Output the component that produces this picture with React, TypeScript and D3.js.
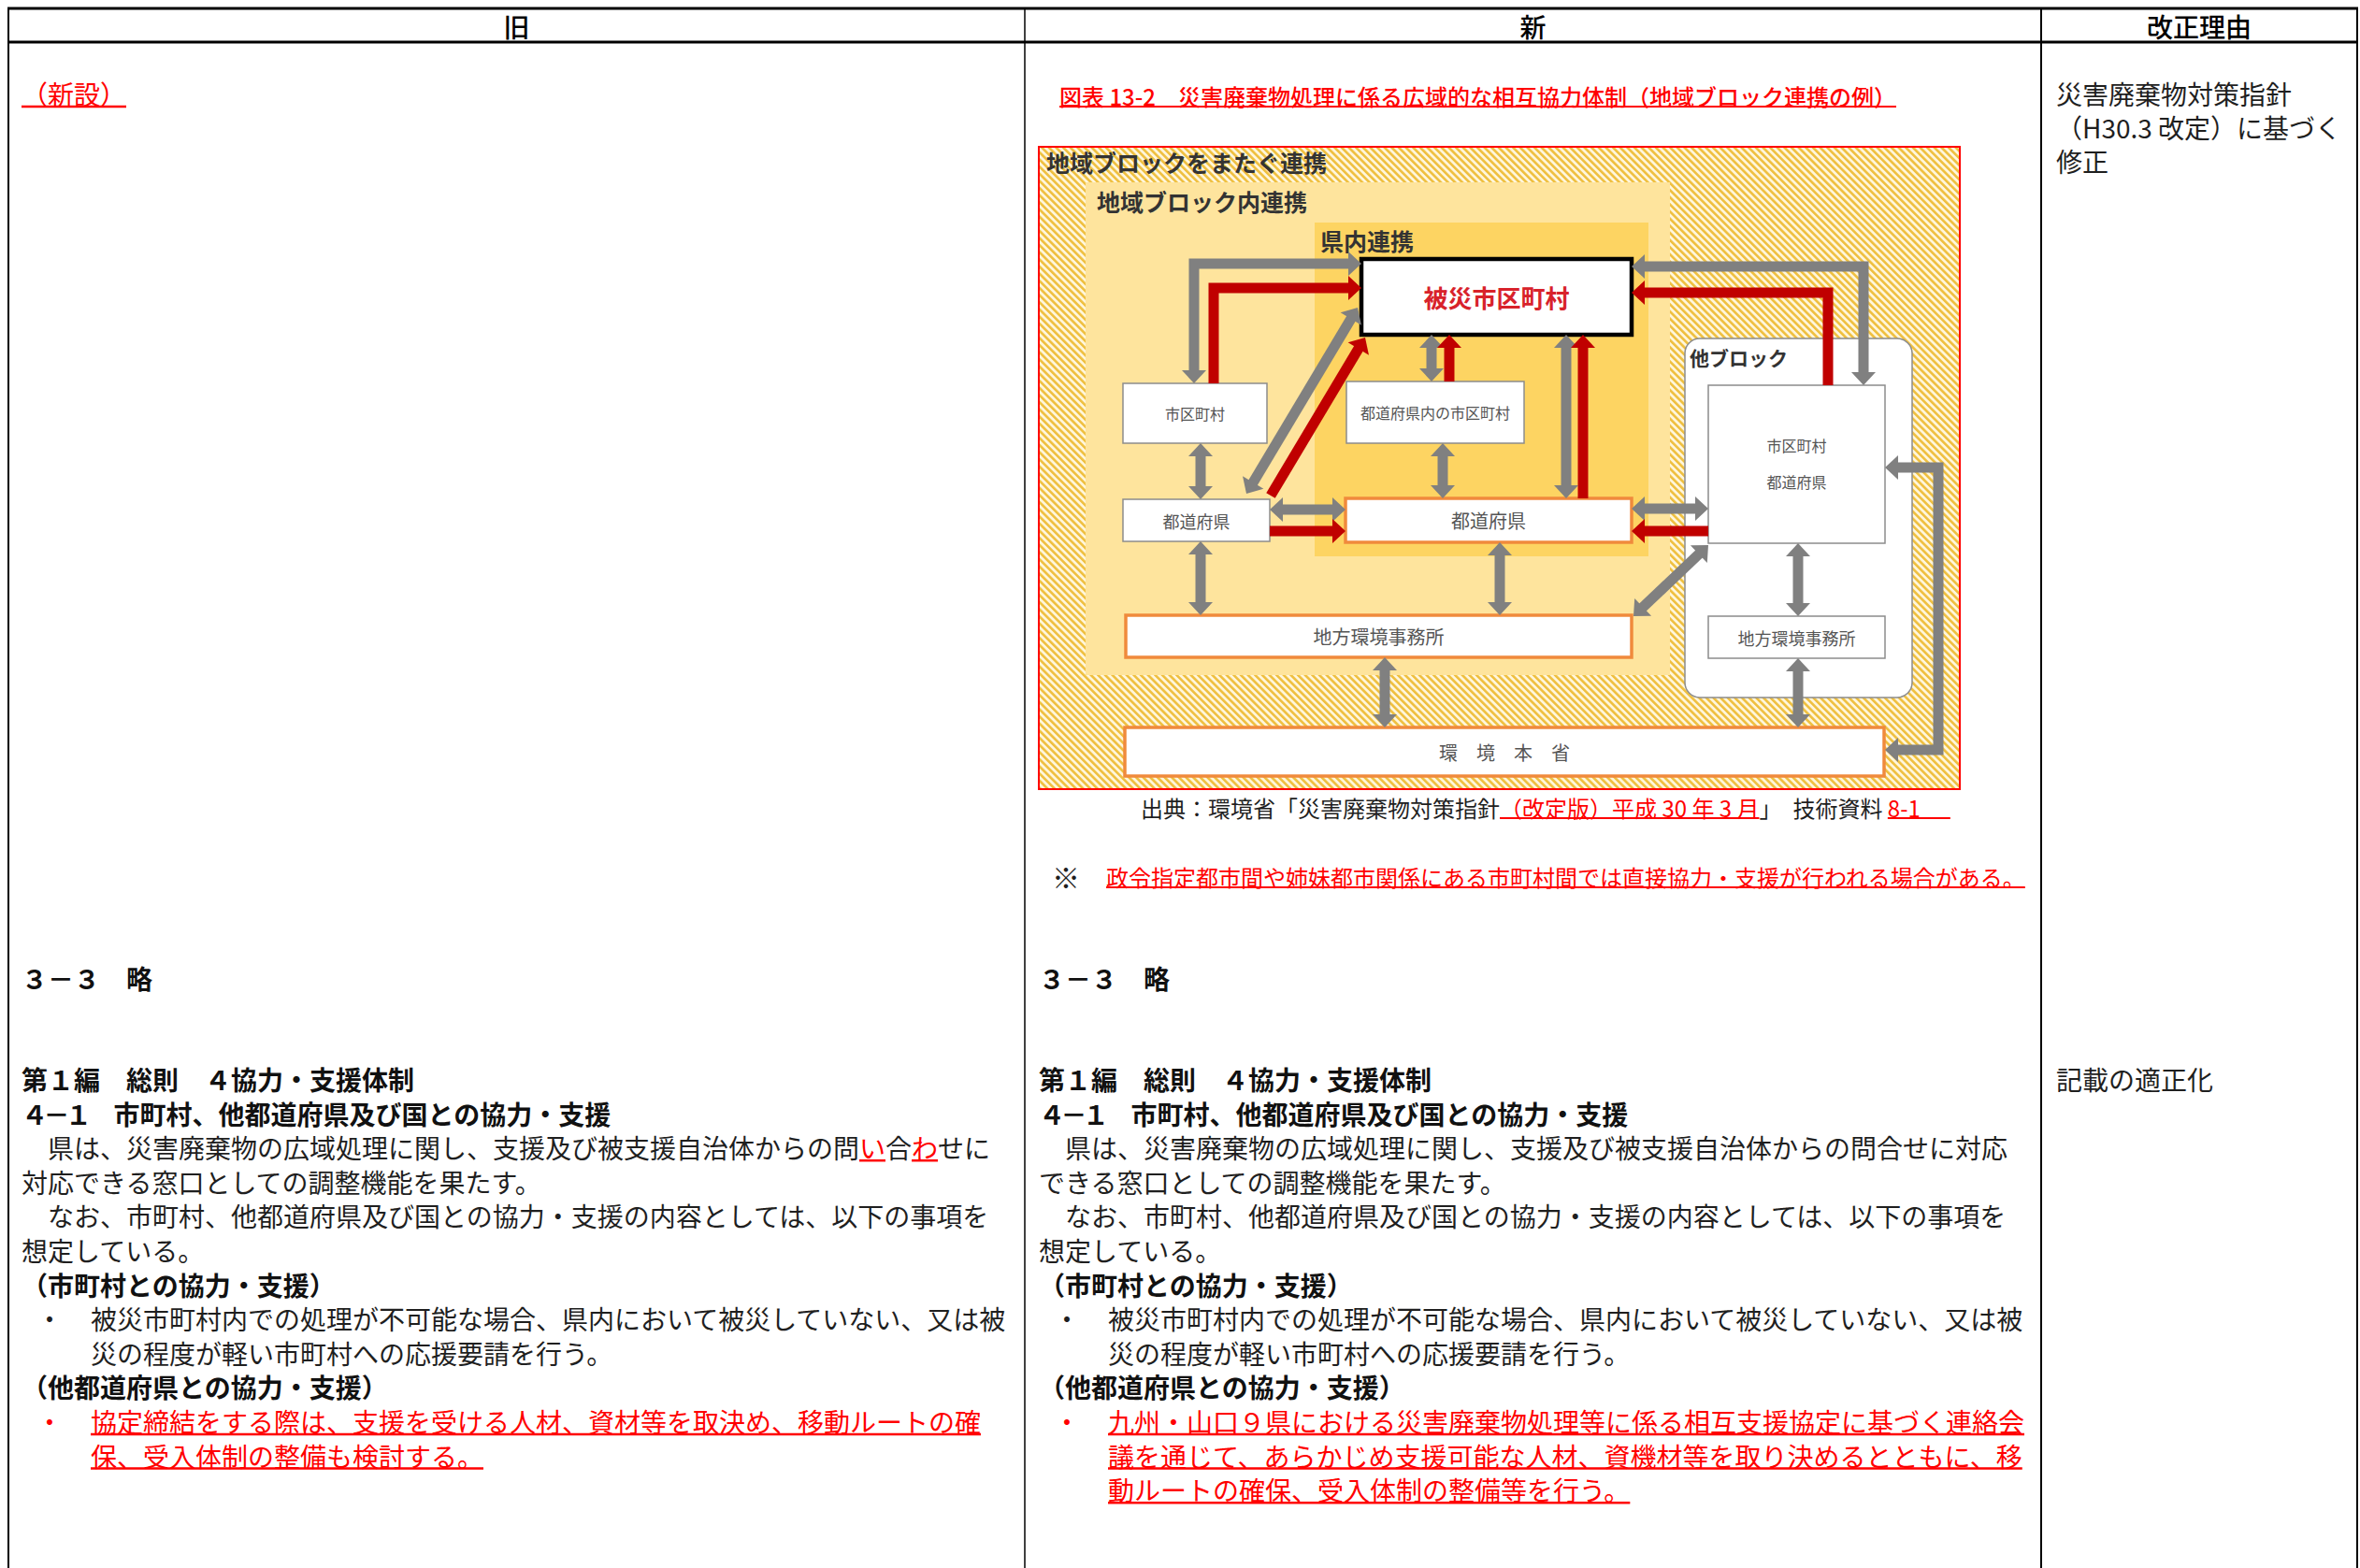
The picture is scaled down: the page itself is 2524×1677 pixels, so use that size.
import React, { useLayoutEffect, useRef, useState } from 'react';
import * as d3 from 'd3';

const W = 2524;
const H = 1677;
const FONT = '"Noto Sans CJK JP", "Noto Sans", sans-serif';
const RED = '#ff0000';
const INK = '#1f1f1f';

// ---- table text ----
const headers = ['旧', '新', '改正理由'];

// [text, revised?, underline extension?, letter spacing?]
type Seg = [string, boolean?, number?, number?];
type Line = { kind: 'head' | 'body' | 'bullet' | 'cont'; segs: Seg[]; red?: boolean };

const commonHead: Line[] = [
  { kind: 'head', segs: [['第１編　総則　４協力・支援体制']] },
  { kind: 'head', segs: [['４－１', false, 0, -4.5], ['　市町村、他都道府県及び国との協力・支援']] },
];
const commonMid: Line[] = [
  { kind: 'body', segs: [['　なお、市町村、他都道府県及び国との協力・支援の内容としては、以下の事項を']] },
  { kind: 'body', segs: [['想定している。']] },
  { kind: 'head', segs: [['（市町村との協力・支援）']] },
  { kind: 'bullet', segs: [['被災市町村内での処理が不可能な場合、県内において被災していない、又は被']] },
  { kind: 'cont', segs: [['災の程度が軽い市町村への応援要請を行う。']] },
  { kind: 'head', segs: [['（他都道府県との協力・支援）']] },
];

const oldLines: Line[] = [
  ...commonHead,
  {
    kind: 'body',
    segs: [['　県は、災害廃棄物の広域処理に関し、支援及び被支援自治体からの問'], ['い', true], ['合'], ['わ', true], ['せに']],
  },
  { kind: 'body', segs: [['対応できる窓口としての調整機能を果たす。']] },
  ...commonMid,
  { kind: 'bullet', red: true, segs: [['協定締結をする際は、支援を受ける人材、資材等を取決め、移動ルートの確', true]] },
  { kind: 'cont', red: true, segs: [['保、受入体制の整備も検討する。', true]] },
];

const newLines: Line[] = [
  ...commonHead,
  { kind: 'body', segs: [['　県は、災害廃棄物の広域処理に関し、支援及び被支援自治体からの問合せに対応']] },
  { kind: 'body', segs: [['できる窓口としての調整機能を果たす。']] },
  ...commonMid,
  { kind: 'bullet', red: true, segs: [['九州・山口９県における災害廃棄物処理等に係る相互支援協定に基づく連絡会', true]] },
  { kind: 'cont', red: true, segs: [['議を通じて、あらかじめ支援可能な人材、資機材等を取り決めるとともに、移', true]] },
  { kind: 'cont', red: true, segs: [['動ルートの確保、受入体制の整備等を行う。', true]] },
];

const reasonTop = ['災害廃棄物対策指針', '（H30.3 改定）に基づく', '修正'];
const reasonBottom = ['記載の適正化'];
const oldNote = '（新設）';
const skipped = '３－３　略';
const figTitle = '図表 13-2　災害廃棄物処理に係る広域的な相互協力体制（地域ブロック連携の例）';
const sourceSegs: Seg[] = [
  ['出典：環境省「災害廃棄物対策指針'],
  ['（改定版）平成 30 年 3 月', true],
  ['」　技術資料 '],
  ['8-1', true, 32],
];
const noteMark = '※';
const noteText = '政令指定都市間や姉妹都市関係にある市町村間では直接協力・支援が行われる場合がある。';

// ---- diagram content ----
const regionLabels = ['地域ブロックをまたぐ連携', '地域ブロック内連携', '県内連携', '他ブロック'];

type BoxStyle = 'focus' | 'plain' | 'orange';
const boxes: { label: string[]; x: number; y: number; w: number; h: number; kind: BoxStyle; fs: number }[] = [
  { label: ['被災市区町村'], x: 345, y: 120, w: 289, h: 81, kind: 'focus', fs: 26 },
  { label: ['市区町村'], x: 90, y: 253, w: 154, h: 64, kind: 'plain', fs: 16 },
  { label: ['都道府県内の市区町村'], x: 329, y: 251, w: 190, h: 66, kind: 'plain', fs: 16 },
  { label: ['都道府県'], x: 90, y: 377, w: 157, h: 45, kind: 'plain', fs: 18 },
  { label: ['都道府県'], x: 328, y: 376, w: 306, h: 47, kind: 'orange', fs: 20 },
  { label: ['地方環境事務所'], x: 93, y: 501, w: 541, h: 45, kind: 'orange', fs: 20 },
  { label: ['環　境　本　省'], x: 92, y: 621, w: 812, h: 52, kind: 'orange', fs: 20 },
  { label: ['市区町村', '都道府県'], x: 716, y: 255, w: 189, h: 169, kind: 'plain', fs: 16 },
  { label: ['地方環境事務所'], x: 716, y: 502, w: 189, h: 45, kind: 'plain', fs: 18 },
];

type Heads = 'start' | 'end' | 'both';
// red = direct support flow, gray = coordination
const arrows: { pts: number[][]; heads: Heads; red?: boolean }[] = [
  { pts: [[166, 253], [166, 125], [345, 125]], heads: 'both' },
  { pts: [[187, 253], [187, 151], [345, 151]], heads: 'end', red: true },
  { pts: [[222, 371], [341, 172]], heads: 'both' },
  { pts: [[248, 373], [349, 204]], heads: 'end', red: true },
  { pts: [[173, 317], [173, 377]], heads: 'both' },
  { pts: [[173, 422], [173, 501]], heads: 'both' },
  { pts: [[247, 388], [328, 388]], heads: 'both' },
  { pts: [[247, 411], [328, 411]], heads: 'end', red: true },
  { pts: [[420, 201], [420, 251]], heads: 'both' },
  { pts: [[439, 251], [439, 201]], heads: 'end', red: true },
  { pts: [[432, 317], [432, 376]], heads: 'both' },
  { pts: [[564, 201], [564, 376]], heads: 'both' },
  { pts: [[582, 376], [582, 201]], heads: 'end', red: true },
  { pts: [[493, 423], [493, 501]], heads: 'both' },
  { pts: [[370, 546], [370, 621]], heads: 'both' },
  { pts: [[634, 128], [882, 128], [882, 255]], heads: 'both' },
  { pts: [[844, 255], [844, 156], [634, 156]], heads: 'end', red: true },
  { pts: [[634, 387], [716, 387]], heads: 'both' },
  { pts: [[716, 411], [634, 411]], heads: 'end', red: true },
  { pts: [[716, 426], [636, 502]], heads: 'both' },
  { pts: [[812, 424], [812, 502]], heads: 'both' },
  { pts: [[812, 547], [812, 621]], heads: 'both' },
  { pts: [[905, 343], [962, 343], [962, 645], [905, 645]], heads: 'both' },
];

// diagram local units -> page pixels
const dx = d3.scaleLinear().domain([0, 985]).range([1111, 2096]);
const dy = d3.scaleLinear().domain([0, 687]).range([157, 844]);

// table rows
const colEdges = [9, 1096, 2183, 2521];
const colX = [23, 1111, 2199];
const rowY = d3.scaleLinear().domain([0, 1]).range([1154, 1190.6]);
const topRowY = d3.scaleLinear().domain([0, 1]).range([100, 136]);

const SHAFT = 11;
const HW = 26;
const HL = 14;

function buildArrow(pts: number[][], heads: Heads) {
  const P = pts.map(([a, b]) => [dx(a), dy(b)] as [number, number]);
  const shaft = P.map((p) => [p[0], p[1]] as [number, number]);
  const polys: [number, number][][] = [];
  const addHead = (tip: [number, number], prev: [number, number], idx: number) => {
    const len = Math.hypot(tip[0] - prev[0], tip[1] - prev[1]);
    const ux = (tip[0] - prev[0]) / len;
    const uy = (tip[1] - prev[1]) / len;
    const cx = tip[0] - ux * HL;
    const cy = tip[1] - uy * HL;
    const nx = -uy;
    const ny = ux;
    polys.push([tip, [cx + (nx * HW) / 2, cy + (ny * HW) / 2], [cx - (nx * HW) / 2, cy - (ny * HW) / 2]]);
    shaft[idx] = [tip[0] - ux * (HL - 1), tip[1] - uy * (HL - 1)];
  };
  const n = P.length;
  if (heads === 'end' || heads === 'both') addHead(P[n - 1], P[n - 2], n - 1);
  if (heads === 'start' || heads === 'both') addHead(P[0], P[1], 0);
  return { d: d3.line()(shaft) || '', polys };
}

const TextLine = ({ x, y, segs, fs, weight = 400, color = INK }: { x: number; y: number; segs: Seg[]; fs: number; weight?: number; color?: string }) => (
  <text x={x} y={y} fontSize={fs} fontWeight={weight} fontFamily={FONT} dominantBaseline="central" style={{ whiteSpace: 'pre' }}>
    {segs.map((s, i) => (
      <tspan
        key={i}
        fill={s[1] ? RED : color}
        letterSpacing={s[3] || undefined}
        data-ul={s[1] ? '1' : undefined}
        data-fs={fs}
        data-cy={y}
        data-ext={s[2] || 0}
      >
        {s[0]}
      </tspan>
    ))}
  </text>
);

const Column = ({ lines, x }: { lines: Line[]; x: number }) => (
  <g>
    {lines.map((ln, i) => {
      const y = rowY(i);
      if (ln.kind === 'head') {
        return <TextLine key={i} x={x} y={y} segs={ln.segs} fs={28} weight={700} color="#111" />;
      }
      if (ln.kind === 'bullet') {
        return (
          <g key={i}>
            <text x={x + 30} y={y} fontSize={28} fontFamily={FONT} textAnchor="middle" dominantBaseline="central" fill={ln.red ? RED : INK}>・</text>
            <TextLine x={x + 74} y={y} segs={ln.segs} fs={28} />
          </g>
        );
      }
      if (ln.kind === 'cont') return <TextLine key={i} x={x + 74} y={y} segs={ln.segs} fs={28} />;
      return <TextLine key={i} x={x} y={y} segs={ln.segs} fs={28} />;
    })}
  </g>
);

export default function App() {
  const svgRef = useRef<SVGSVGElement>(null);
  const [underlines, setUnderlines] = useState<{ x1: number; x2: number; y: number; t: number }[]>([]);

  useLayoutEffect(() => {
    const measure = () => {
      const svg = svgRef.current;
      if (!svg) return;
      const out: { x1: number; x2: number; y: number; t: number }[] = [];
      svg.querySelectorAll('tspan[data-ul]').forEach((node) => {
        const t = node as SVGTSpanElement;
        const n = t.getNumberOfChars();
        if (!n) return;
        const s = t.getStartPositionOfChar(0);
        const e = t.getEndPositionOfChar(n - 1);
        const fs = parseFloat(t.getAttribute('data-fs') || '28');
        const ext = parseFloat(t.getAttribute('data-ext') || '0');
        const cy = parseFloat(t.getAttribute('data-cy') || '0');
        out.push({ x1: s.x, x2: e.x + ext, y: cy + fs * 0.5, t: fs > 25 ? 2.5 : 2.2 });
      });
      setUnderlines(out);
    };
    measure();
    const f = (document as any).fonts;
    if (f && f.ready) f.ready.then(measure);
  }, []);

  const boxStroke = (k: BoxStyle) => (k === 'focus' ? '#000' : k === 'orange' ? '#f08a3c' : '#8c8c8c');
  const boxWidth = (k: BoxStyle) => (k === 'focus' ? 4.5 : k === 'orange' ? 3.5 : 1.5);

  return (
    <div style={{ position: 'fixed', left: 0, top: 0, width: W, height: H, background: '#fff' }}>
      <svg ref={svgRef} width={W} height={H} style={{ display: 'block' }}>
        <defs>
          <pattern id="hatch" width="5.4" height="5.4" patternUnits="userSpaceOnUse" patternTransform="rotate(-45)">
            <rect width="5.4" height="5.4" fill="#fff6dc" />
            <rect width="2.6" height="5.4" fill="#efbf3e" />
          </pattern>
        </defs>
        <rect width={W} height={H} fill="#fff" />

        {/* table frame */}
        <line x1={colEdges[0] - 1} x2={colEdges[3] + 1} y1={9} y2={9} stroke="#000" strokeWidth={3} />
        <line x1={colEdges[0] - 1} x2={colEdges[3] + 1} y1={45} y2={45} stroke="#000" strokeWidth={3} />
        {colEdges.map((cx, i) => (
          <line key={i} x1={cx} x2={cx} y1={8} y2={H} stroke="#000" strokeWidth={i === 1 ? 1.5 : 2} />
        ))}
        {headers.map((h, i) => (
          <text key={h} x={(colEdges[i] + colEdges[i + 1]) / 2} y={28} fontSize={28} fontWeight={500} fontFamily={FONT} textAnchor="middle" dominantBaseline="central" fill="#000">
            {h}
          </text>
        ))}

        {/* old column */}
        <TextLine x={colX[0]} y={100} segs={[[oldNote, true]]} fs={28} />
        <TextLine x={colX[0]} y={1046} segs={[[skipped]]} fs={28} weight={700} color="#111" />
        <Column lines={oldLines} x={colX[0]} />

        {/* new column */}
        <TextLine x={1133} y={102} segs={[[figTitle, true]]} fs={24} weight={500} />
        <TextLine x={1220} y={863} segs={sourceSegs} fs={24} />
        <text x={1140} y={937} fontSize={30} fontFamily={FONT} textAnchor="middle" dominantBaseline="central" fill={INK}>{noteMark}</text>
        <TextLine x={1183} y={937} segs={[[noteText, true]]} fs={24} />
        <TextLine x={colX[1]} y={1046} segs={[[skipped]]} fs={28} weight={700} color="#111" />
        <Column lines={newLines} x={colX[1]} />

        {/* reason column */}
        {reasonTop.map((t, i) => (
          <TextLine key={i} x={colX[2]} y={topRowY(i)} segs={[[t]]} fs={28} />
        ))}
        {reasonBottom.map((t, i) => (
          <TextLine key={i} x={colX[2]} y={rowY(i)} segs={[[t]]} fs={28} />
        ))}

        {/* diagram */}
        <g>
          <rect x={dx(0)} y={dy(0)} width={dx(985) - dx(0)} height={dy(687) - dy(0)} fill="url(#hatch)" />
          <rect x={dx(50)} y={dy(38)} width={dx(675) - dx(50)} height={dy(565) - dy(38)} fill="#fee49d" />
          <rect x={dx(295)} y={dy(81)} width={dx(652) - dx(295)} height={dy(438) - dy(81)} fill="#fdd462" />
          <rect x={dx(691)} y={dy(205)} width={dx(934) - dx(691)} height={dy(589) - dy(205)} rx={16} fill="#fff" stroke="#8c8c8c" strokeWidth={1.5} />

          <text x={dx(8)} y={dy(16)} fontSize={25} fontWeight={700} fontFamily={FONT} dominantBaseline="central" fill="#333">{regionLabels[0]}</text>
          <text x={dx(62)} y={dy(58)} fontSize={25} fontWeight={700} fontFamily={FONT} dominantBaseline="central" fill="#333">{regionLabels[1]}</text>
          <text x={dx(301)} y={dy(100)} fontSize={25} fontWeight={700} fontFamily={FONT} dominantBaseline="central" fill="#333">{regionLabels[2]}</text>
          <text x={dx(696)} y={dy(225)} fontSize={21} fontWeight={700} fontFamily={FONT} dominantBaseline="central" fill="#333">{regionLabels[3]}</text>

          {boxes.map((b, i) => (
            <g key={i}>
              <rect x={dx(b.x)} y={dy(b.y)} width={b.w} height={b.h} fill="#fff" stroke={boxStroke(b.kind)} strokeWidth={boxWidth(b.kind)} />
              {b.label.map((l, j) => (
                <text
                  key={j}
                  x={dx(b.x + b.w / 2)}
                  y={dy(b.label.length > 1 ? b.y + 64 + j * 39 : b.y + b.h / 2)}
                  fontSize={b.fs}
                  fontWeight={b.kind === 'focus' ? 700 : 400}
                  fontFamily={FONT}
                  textAnchor="middle"
                  dominantBaseline="central"
                  fill={b.kind === 'focus' ? '#d8222b' : '#555'}
                >
                  {l}
                </text>
              ))}
            </g>
          ))}

          {arrows.map((a, i) => {
            const { d, polys } = buildArrow(a.pts, a.heads);
            const c = a.red ? '#c00000' : '#808080';
            return (
              <g key={i}>
                <path d={d} fill="none" stroke={c} strokeWidth={SHAFT} strokeLinejoin="miter" strokeLinecap="butt" />
                {polys.map((p, j) => (
                  <polygon key={j} points={p.map((q) => q.join(',')).join(' ')} fill={c} />
                ))}
              </g>
            );
          })}

          <rect x={dx(0)} y={dy(0)} width={dx(985) - dx(0)} height={dy(687) - dy(0)} fill="none" stroke={RED} strokeWidth={2} />
        </g>

        {underlines.map((u, i) => (
          <line key={i} x1={u.x1} x2={u.x2} y1={u.y} y2={u.y} stroke={RED} strokeWidth={u.t} />
        ))}
      </svg>
    </div>
  );
}
